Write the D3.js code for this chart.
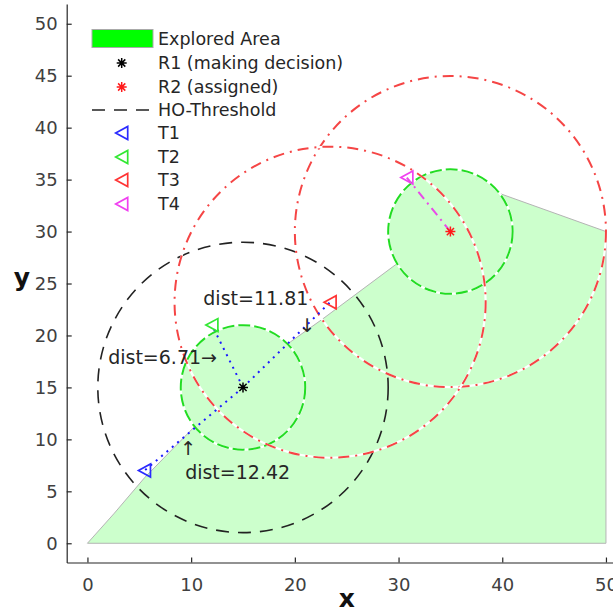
<!DOCTYPE html>
<html>
<head>
<meta charset="utf-8">
<script src="https://cdn.jsdelivr.net/npm/d3@7"></script>
<style>
  body { margin: 0; background: #fff; }
  svg text { font-family: "DejaVu Sans", sans-serif; fill: #262626; }
</style>
</head>
<body>
<svg id="chart" width="613" height="612"></svg>
<script>
// ---- data ----
var xTicks = [0, 10, 20, 30, 40, 50];
var yTicks = [0, 5, 10, 15, 20, 25, 30, 35, 40, 45, 50];

var robots = [
  { name: "R1", x: 15, y: 15, color: "#000000" },
  { name: "R2", x: 35, y: 30, color: "#ff1a1a" }
];
var targets = [
  { name: "T1", x: 5.5,  y: 7,    color: "#2b2bff" },
  { name: "T2", x: 12,   y: 21,   color: "#33e833" },
  { name: "T3", x: 23.4, y: 23.2, color: "#ff3333" },
  { name: "T4", x: 30.8, y: 35.2, color: "#f040f0" }
];
var sensorRadius = 6;
var hoRadius = 14;
var assignCircles = [ { x: 35, y: 30, r: 15 }, { x: 23.4, y: 23.2, r: 15 } ];

// explored area frontier, split where it follows the sensor circles
var frontierA = [[0, 0], [2.6, 2.9], [5.5, 6.3], [10.3, 11.2]];
var frontierB = [[19.6, 19.4], [22.7, 21.6], [29.7, 26.8]];
var frontierC = [[39.65, 33.7], [50, 30], [50, 0]];

var links = [
  { from: "R1", to: "T1", color: "#1a1aff", dash: "2,5" },
  { from: "R1", to: "T2", color: "#1a1aff", dash: "2,5" },
  { from: "R1", to: "T3", color: "#1a1aff", dash: "2,5" },
  { from: "R2", to: "T4", color: "#e84ae8", dash: "9,5,2,5" }
];

var notes = [
  { text: "dist=12.42", x: 9.42, y: 6.86, anchor: "start" },
  { text: "\u2191",     x: 9.71, y: 9.2,  anchor: "middle" },
  { text: "dist=11.81", x: 21.3, y: 23.6, anchor: "end" },
  { text: "\u2193",     x: 21.2, y: 21.0, anchor: "middle" },
  { text: "dist=6.71\u2192", x: 2.0, y: 17.9, anchor: "start" }
];

var legendItems = ["Explored Area", "R1 (making decision)", "R2 (assigned)", "HO-Threshold", "T1", "T2", "T3", "T4"];

// ---- scales ----
var svg = d3.select("#chart");
var x = d3.scaleLinear().domain([-2, 52]).range([66.7, 626.7]);
var y = d3.scaleLinear().domain([-1.85, 51.9]).range([562.5, 4]);
var px = function(r) { return x(r) - x(0); };

function byName(n) {
  return robots.concat(targets).filter(function(d) { return d.name == n; })[0];
}

// ---- explored area ----
function arcThrough(p, c, from, to) {
  var cx = x(c.x), cy = y(c.y);
  var a0 = Math.atan2(y(from[1]) - cy, x(from[0]) - cx);
  var a1 = Math.atan2(y(to[1]) - cy, x(to[0]) - cx);
  p.arc(cx, cy, px(sensorRadius), a0, a1, false);
}
var p = d3.path();
frontierA.forEach(function(d, i) {
  if (i == 0) p.moveTo(x(d[0]), y(d[1])); else p.lineTo(x(d[0]), y(d[1]));
});
arcThrough(p, robots[0], frontierA[frontierA.length - 1], frontierB[0]);
frontierB.forEach(function(d) { p.lineTo(x(d[0]), y(d[1])); });
arcThrough(p, robots[1], frontierB[frontierB.length - 1], frontierC[0]);
frontierC.forEach(function(d) { p.lineTo(x(d[0]), y(d[1])); });
p.closePath();

svg.append("path")
  .attr("d", p.toString())
  .style("fill", "#ccffcc")
  .style("stroke", "#b4b4b4")
  .style("stroke-width", 1);

// ---- circles ----
// HO threshold around R1
svg.append("circle")
  .attr("cx", x(15)).attr("cy", y(15)).attr("r", px(hoRadius))
  .style("fill", "none").style("stroke", "#222")
  .style("stroke-width", 1.6).style("stroke-dasharray", "13,9");

// sensor circles
robots.forEach(function(r) {
  svg.append("circle")
    .attr("cx", x(r.x)).attr("cy", y(r.y)).attr("r", px(sensorRadius))
    .style("fill", "none").style("stroke", "#fff").style("stroke-width", 2.2);
  svg.append("circle")
    .attr("cx", x(r.x)).attr("cy", y(r.y)).attr("r", px(sensorRadius))
    .style("fill", "none").style("stroke", "#22dd22")
    .style("stroke-width", 2).style("stroke-dasharray", "12,4");
});

// assignment circles
assignCircles.forEach(function(c) {
  svg.append("circle")
    .attr("cx", x(c.x)).attr("cy", y(c.y)).attr("r", px(c.r))
    .style("fill", "none").style("stroke", "#fff").style("stroke-width", 2.2);
  svg.append("circle")
    .attr("cx", x(c.x)).attr("cy", y(c.y)).attr("r", px(c.r))
    .style("fill", "none").style("stroke", "#f54545")
    .style("stroke-width", 2).style("stroke-dasharray", "11,6,2,6");
});

// ---- links ----
links.forEach(function(l) {
  var a = byName(l.from), b = byName(l.to);
  svg.append("line")
    .attr("x1", x(a.x)).attr("y1", y(a.y))
    .attr("x2", x(b.x)).attr("y2", y(b.y))
    .style("stroke", l.color).style("stroke-width", 2)
    .style("stroke-dasharray", l.dash);
});

// ---- markers ----
function star(g, cx, cy, color) {
  var s = 5;
  var d = "M" + (cx - s) + "," + cy + "L" + (cx + s) + "," + cy +
          "M" + cx + "," + (cy - s) + "L" + cx + "," + (cy + s) +
          "M" + (cx - s * 0.72) + "," + (cy - s * 0.72) + "L" + (cx + s * 0.72) + "," + (cy + s * 0.72) +
          "M" + (cx - s * 0.72) + "," + (cy + s * 0.72) + "L" + (cx + s * 0.72) + "," + (cy - s * 0.72);
  g.append("path").attr("d", d).style("stroke", color).style("stroke-width", 1.5).style("fill", "none");
}
function tri(g, cx, cy, color) {
  g.append("path")
    .attr("d", "M" + (cx - 6) + "," + cy + "L" + (cx + 6) + "," + (cy - 6.5) + "L" + (cx + 6) + "," + (cy + 6.5) + "Z")
    .style("fill", "none").style("stroke", color).style("stroke-width", 1.7)
    .style("stroke-linejoin", "miter");
}
robots.forEach(function(r) { star(svg, x(r.x), y(r.y), r.color); });
targets.forEach(function(t) { tri(svg, x(t.x), y(t.y), t.color); });

// ---- annotations ----
svg.append("g").selectAll("text")
  .data(notes)
  .join("text")
  .attr("x", function(d) { return x(d.x); })
  .attr("y", function(d) { return y(d.y); })
  .attr("dy", "0.36em")
  .attr("text-anchor", function(d) { return d.anchor; })
  .style("font-size", "19px")
  .text(function(d) { return d.text; });

// ---- axes ----
var xAxis = svg.append("g")
  .attr("transform", "translate(0," + y(-1.85) + ")")
  .call(d3.axisBottom(x).tickValues(xTicks).tickSizeInner(-5).tickSizeOuter(0).tickPadding(16));
var yAxis = svg.append("g")
  .attr("transform", "translate(" + x(-2) + ",0)")
  .call(d3.axisLeft(y).tickValues(yTicks).tickSizeInner(-5).tickSizeOuter(0).tickPadding(9));
[xAxis, yAxis].forEach(function(a) {
  a.selectAll("path, line").style("stroke", "#262626").style("stroke-width", 1.2);
  a.selectAll("text").style("font-size", "18px").style("fill", "#404040")
    .style("font-family", "DejaVu Sans, sans-serif");
});

svg.append("text")
  .attr("x", x(25)).attr("y", 607)
  .attr("text-anchor", "middle")
  .style("font-size", "25px").style("font-weight", "bold").style("fill", "#111")
  .text("x");
svg.append("text")
  .attr("x", 22).attr("y", y(25)).attr("dy", "0.1em")
  .attr("text-anchor", "middle")
  .style("font-size", "25px").style("font-weight", "bold").style("fill", "#111")
  .text("y");

// ---- legend ----
var rowY = [38.5, 63, 87, 110, 133, 157, 180, 204];
var leg = svg.append("g");
leg.append("rect")
  .attr("x", 92).attr("y", 29.5).attr("width", 61).attr("height", 18)
  .style("fill", "#00ff00").style("stroke", "#aaaaaa").style("stroke-width", 1);
star(leg, 121.7, rowY[1], robots[0].color);
star(leg, 121.7, rowY[2], robots[1].color);
leg.append("line")
  .attr("x1", 92).attr("x2", 156).attr("y1", rowY[3]).attr("y2", rowY[3])
  .style("stroke", "#222").style("stroke-width", 1.6).style("stroke-dasharray", "13,9");
targets.forEach(function(t, i) { tri(leg, 121.7, rowY[4 + i], t.color); });
leg.selectAll("text")
  .data(legendItems)
  .join("text")
  .attr("x", 158)
  .attr("y", function(d, i) { return rowY[i]; })
  .attr("dy", "0.36em")
  .style("font-size", "17.5px")
  .text(function(d) { return d; });
</script>
</body>
</html>
